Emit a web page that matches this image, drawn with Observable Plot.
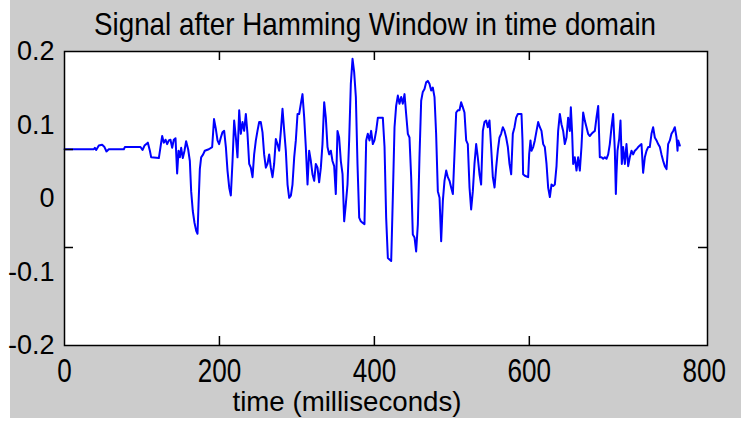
<!DOCTYPE html>
<html><head><meta charset="utf-8">
<script src="https://cdn.jsdelivr.net/npm/d3@7"></script>
<script src="https://cdn.jsdelivr.net/npm/@observablehq/plot@0.6"></script>
<style>
html,body{margin:0;padding:0;background:#fff;}
#wrap{position:relative;width:741px;height:423px;overflow:hidden;}
#bg{position:absolute;left:10px;top:0;width:731px;height:418px;background:#cccccc;}
#chart{position:absolute;left:0;top:0;}
</style></head><body>
<div id="wrap"><div id="bg"></div><div id="chart"></div></div>
<script>
const title = "Signal after Hamming Window in time domain";
const xLabel = "time (milliseconds)";
const xTickLabels = [0, 200, 400, 600];
const xTickLabelsEnd = [800];
const yTickLabels = [0.2, 0.1, 0, -0.1, -0.2];
const xTickMarks = [200, 400, 600];
const yTickMarks = [1/15, -1/15];
// [time ms, amplitude]
const signal = [
[0,0.067],[37.9,0.067],[39.2,0.069],[40.9,0.066],[44.3,0.072],[48.6,0.073],[51.6,0.070],[54.2,0.064],[57.2,0.067],
[76.6,0.067],[77.9,0.070],[98.1,0.070],[100.7,0.066],[103.3,0.072],[107.6,0.076],[110.2,0.065],[111.9,0.056],
[121.8,0.055],[123.9,0.070],[126.1,0.085],[128.2,0.076],[130.4,0.080],[132.5,0.074],[134.7,0.079],[136.8,0.080],
[139.0,0.069],[141.1,0.080],[143.3,0.082],[145.4,0.034],[147.2,0.065],[148.9,0.056],[150.6,0.069],[152.7,0.055],
[154.9,0.065],[157.0,0.078],[159.6,0.067],[161.8,0.051],[163.5,0.010],[165.6,-0.017],[167.8,-0.033],[170.0,-0.044],
[171.7,-0.048],[173.0,-0.008],[174.7,0.040],[176.4,0.056],[179.0,0.060],[181.1,0.065],[186.3,0.067],[190.6,0.070],
[193.0,0.108],[195.3,0.095],[197.5,0.079],[199.6,0.074],[201.8,0.083],[203.9,0.090],[206.1,0.092],[208.3,0.070],
[210.4,0.038],[212.6,0.015],[214.7,0.004],[216.9,0.051],[219.0,0.106],[221.2,0.083],[223.3,0.056],[225.5,0.120],
[227.6,0.088],[229.8,0.104],[231.9,0.092],[234.1,0.115],[236.2,0.088],[238.4,0.047],[240.5,0.042],[242.7,0.029],
[244.8,0.060],[247.0,0.079],[249.1,0.092],[251.3,0.104],[253.4,0.104],[255.6,0.090],[257.7,0.060],[259.9,0.042],
[262.0,0.047],[264.2,0.060],[266.3,0.042],[268.5,0.029],[270.6,0.047],[272.8,0.081],[274.9,0.074],[277.1,0.065],
[279.3,0.092],[281.4,0.122],[283.6,0.092],[285.7,0.065],[287.9,0.019],[290.0,0.001],[292.2,0.004],[294.3,0.019],
[296.5,0.056],[298.6,0.079],[300.8,0.115],[302.9,0.115],[305.1,0.129],[307.2,0.142],[309.4,0.110],[311.5,0.070],
[313.7,0.019],[315.8,0.065],[318.0,0.051],[320.1,0.033],[322.3,0.024],[324.4,0.047],[326.6,0.042],[328.7,0.022],
[330.9,0.042],[333.0,0.074],[335.2,0.131],[337.3,0.110],[339.5,0.070],[341.6,0.060],[343.8,0.065],[345.9,0.051],
[348.1,0.044],[350.2,0.006],[352.4,0.092],[354.5,0.083],[356.7,0.051],[358.9,0.033],[361.0,-0.031],[363.1,-0.008],
[365.3,0.019],[367.5,0.081],[369.6,0.156],[371.8,0.190],[373.9,0.172],[376.1,0.138],[378.2,0.047],[380.4,-0.026],
[382.5,-0.031],[384.7,-0.033],[387.2,-0.035],[389.4,0.079],[391.5,0.088],[393.7,0.079],[395.8,0.092],[398.0,0.074],
[400.1,0.079],[402.3,0.092],[404.5,0.110],[410.9,0.110],[413.1,0.070],[415.2,-0.026],[417.4,-0.081],[419.5,-0.083],
[421.7,-0.085],[423.8,0.001],[426.0,0.097],[428.1,0.126],[430.3,0.140],[432.4,0.129],[434.6,0.138],[436.7,0.129],
[438.9,0.142],[441.0,0.115],[443.2,0.088],[445.3,0.083],[447.5,0.029],[449.6,-0.049],[451.8,-0.053],[453.9,-0.072],
[456.1,-0.035],[458.2,0.056],[460.4,0.133],[462.5,0.145],[464.7,0.149],[466.8,0.158],[469.0,0.160],[471.1,0.156],
[473.3,0.147],[475.4,0.151],[477.6,0.138],[479.7,0.088],[481.9,0.010],[484.1,0.001],[486.2,-0.058],[488.4,-0.003],
[490.5,0.024],[492.7,0.038],[494.8,0.029],[497.0,0.024],[499.1,0.015],[501.3,0.006],[503.4,0.060],[505.6,0.117],
[507.7,0.120],[509.9,0.120],[512.0,0.131],[514.2,0.124],[516.3,0.117],[518.5,0.079],[520.6,0.074],[522.8,0.015],
[524.9,-0.015],[527.1,0.010],[529.2,0.047],[531.4,0.074],[533.5,0.056],[535.7,0.033],[537.8,0.019],[540.0,0.092],
[542.1,0.104],[544.3,0.106],[546.4,0.097],[548.6,0.106],[550.7,0.070],[552.9,0.029],[555.1,0.015],[557.2,0.042],
[559.3,0.065],[561.5,0.083],[563.6,0.088],[565.8,0.097],[568.0,0.092],[570.1,0.083],[572.3,0.070],[574.4,0.047],
[576.6,0.033],[578.7,0.088],[580.9,0.097],[583.0,0.110],[585.2,0.115],[589.9,0.115],[591.2,0.079],[592.0,0.033],
[594.2,0.031],[598.5,0.029],[599.8,0.060],[601.5,0.079],[602.8,0.065],[605.0,0.070],[607.1,0.079],[609.3,0.092],
[611.4,0.104],[613.6,0.097],[615.7,0.092],[617.9,0.074],[620.0,0.070],[622.2,0.047],[624.3,0.015],[626.5,0.002],
[628.6,0.019],[630.8,0.017],[632.9,0.019],[635.1,0.044],[637.2,0.092],[639.4,0.115],[641.5,0.101],[643.7,0.092],
[645.8,0.074],[648.0,0.083],[650.1,0.110],[652.3,0.092],[653.6,0.124],[655.3,0.088],[656.6,0.047],[658.7,0.056],
[660.9,0.038],[663.0,0.056],[665.2,0.038],[667.3,0.070],[669.5,0.117],[671.6,0.106],[673.8,0.097],[675.9,0.088],
[678.1,0.085],[680.3,0.088],[682.4,0.090],[684.6,0.092],[686.7,0.110],[688.9,0.126],[691.0,0.056],[693.2,0.056],
[695.3,0.054],[697.5,0.056],[699.6,0.054],[701.8,0.060],[703.9,0.074],[706.1,0.097],[708.2,0.115],[710.4,0.065],
[711.7,0.006],[712.5,0.033],[713.8,0.065],[716.0,0.081],[717.7,0.106],[719.4,0.047],[721.1,0.070],[723.3,0.047],
[725.4,0.074],[727.6,0.044],[729.7,0.056],[731.9,0.065],[734.0,0.060],[736.2,0.065],[738.3,0.067],[740.5,0.070],
[742.6,0.072],[744.8,0.074],[746.9,0.035],[749.1,0.056],[751.3,0.065],[753.4,0.070],[755.5,0.070],[757.7,0.088],
[759.8,0.097],[762.0,0.083],[764.2,0.079],[766.3,0.074],[768.5,0.070],[770.6,0.060],[772.8,0.051],[774.9,0.044],
[777.1,0.040],[779.2,0.074],[781.4,0.079],[783.5,0.088],[785.7,0.092],[787.8,0.097],[790.0,0.083],[791.3,0.065],
[792.1,0.079],[794.3,0.072]
];

const font = "'Liberation Sans', Arial, sans-serif";
const W = 741, H = 423, mL = 64, mR = 34, mT = 51, mB = 78;
const plotH = H - mT - mB, plotW = W - mL - mR, tickLen = 9;

const chart = Plot.plot({
  width: W, height: H,
  marginLeft: mL, marginRight: mR, marginTop: mT, marginBottom: mB,
  style: {background: "transparent", fontFamily: font, color: "#000", overflow: "visible"},
  x: {domain: [0, 830]},
  y: {domain: [-0.2, 0.2]},
  marks: [
    Plot.frame({fill: "white"}),
    Plot.line(signal, {x: d => d[0], y: d => d[1], stroke: "#0000ff", strokeWidth: 2}),
    Plot.ruleX(xTickMarks, {x: d => d, insetTop: plotH - tickLen, stroke: "#000", strokeWidth: 1.5}),
    Plot.ruleX(xTickMarks, {x: d => d, insetBottom: plotH - tickLen, stroke: "#000", strokeWidth: 1.5}),
    Plot.ruleY(yTickMarks, {y: d => d, insetRight: plotW - tickLen, stroke: "#000", strokeWidth: 1.5}),
    Plot.ruleY(yTickMarks, {y: d => d, insetLeft: plotW - tickLen, stroke: "#000", strokeWidth: 1.5}),
    Plot.frame({stroke: "#000", strokeWidth: 1.5}),
    Plot.axisX(xTickLabels, {tickSize: 0, tickPadding: 12, fontSize: 34, label: null}),
    Plot.axisX(xTickLabelsEnd, {tickSize: 0, tickPadding: 12, fontSize: 34, label: null, dx: 20}),
    Plot.axisY(yTickLabels, {tickSize: 0, tickPadding: 10, fontSize: 27, label: null, tickFormat: d => String(d)}),
    Plot.text([title], {frameAnchor: "top", dx: -11, dy: -39, fontSize: 32, text: d => d}),
    Plot.text([xLabel], {frameAnchor: "bottom", dx: -39, dy: 65, fontSize: 28, text: d => d})
  ]
});
document.getElementById("chart").appendChild(chart);
const svg = d3.select(chart);
svg.selectAll('g[aria-label="x-axis tick label"] text').each(function() {
  const n = this.textContent.length;
  d3.select(this).attr("textLength", 14.5 * n).attr("lengthAdjust", "spacingAndGlyphs");
});
svg.selectAll("text").each(function() {
  const s = this.textContent;
  if (s === title) d3.select(this).attr("textLength", 562).attr("lengthAdjust", "spacingAndGlyphs");
  if (s === xLabel) d3.select(this).attr("textLength", 229).attr("lengthAdjust", "spacingAndGlyphs");
});
</script>
</body></html>
